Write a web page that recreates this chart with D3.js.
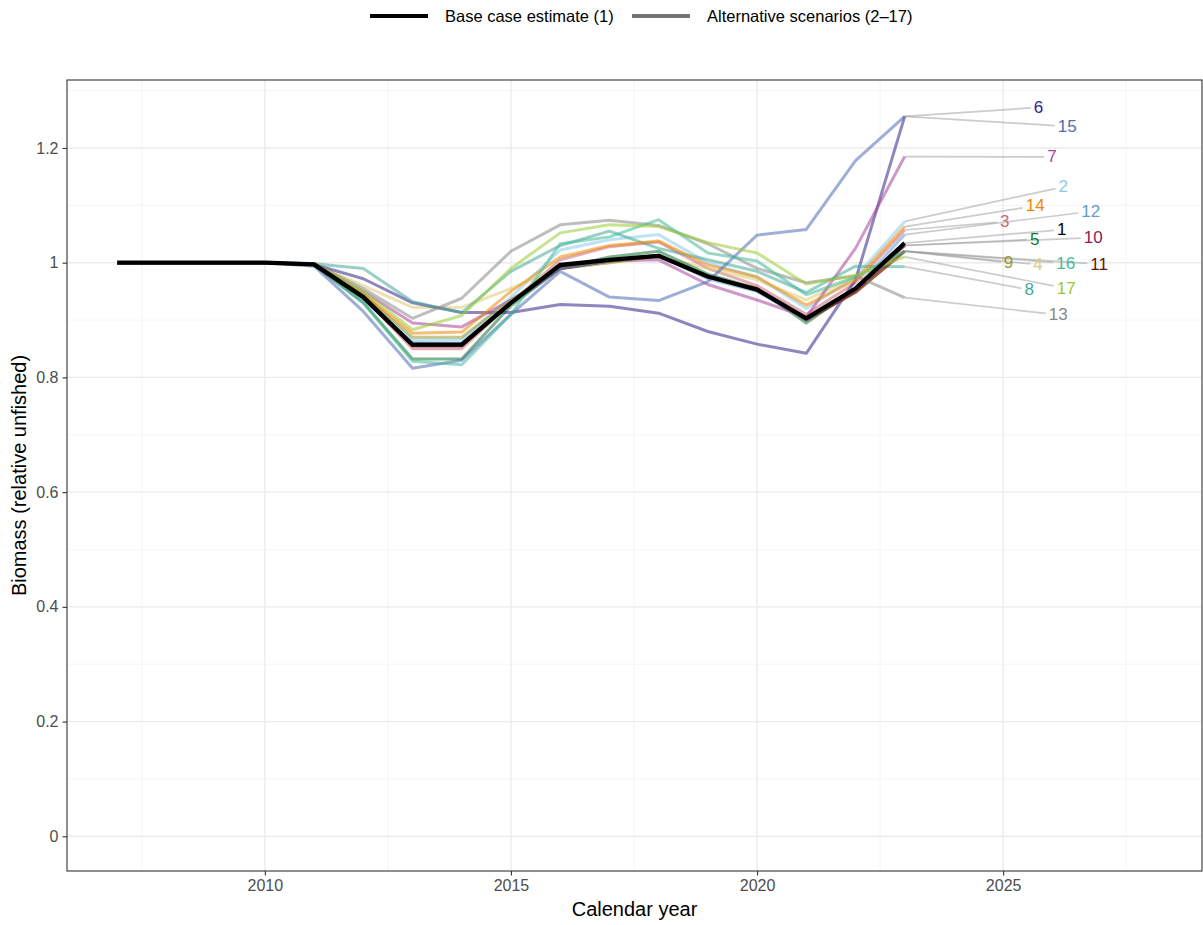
<!DOCTYPE html>
<html>
<head>
<meta charset="utf-8">
<script src="https://cdnjs.cloudflare.com/ajax/libs/d3/7.8.5/d3.min.js"></script>
<style>
body { margin: 0; background: #fff; }
text { font-family: "Liberation Sans", Arial, sans-serif; }
</style>
</head>
<body>
<div id="canvas"></div>
<script>
// ----------------------------------------------------------
// DATA -----------------------------------------------------
// ----------------------------------------------------------
var years = [2007, 2008, 2009, 2010, 2011, 2012, 2013, 2014, 2015,
  2016, 2017, 2018, 2019, 2020, 2021, 2022, 2023];

var scenarioIds = ["1", "2", "3", "4", "5", "6", "7", "8", "9",
  "10", "11", "12", "13", "14", "15", "16", "17"];

var scenarioColors = ["#000000", "#88CCEE", "#CC6677", "#DDCC77", "#117733",
  "#332288", "#AA4499", "#44AA99", "#999933", "#882255", "#661100",
  "#6699CC", "#888888", "#EE8800", "#4F6BB5", "#44BB99", "#99CC33"];

// biomass relative to unfished, one row per scenario (2007 -> 2023)
var s1  = [1, 1, 1, 1, 0.997, 0.940, 0.857, 0.857, 0.930, 0.996, 1.005, 1.012, 0.976, 0.953, 0.903, 0.955, 1.034];
var s2  = [1, 1, 1, 1, 0.997, 0.945, 0.865, 0.866, 0.940, 1.022, 1.040, 1.049, 1.000, 0.975, 0.920, 0.975, 1.072];
var s3  = [1, 1, 1, 1, 0.997, 0.940, 0.850, 0.850, 0.930, 1.005, 1.028, 1.036, 0.990, 0.960, 0.910, 0.965, 1.057];
var s4  = [1, 1, 1, 1, 0.998, 0.960, 0.922, 0.922, 0.955, 0.990, 1.000, 1.010, 0.990, 0.970, 0.935, 0.975, 1.020];
var s5  = [1, 1, 1, 1, 0.996, 0.930, 0.832, 0.832, 0.925, 0.990, 1.010, 1.020, 0.980, 0.955, 0.895, 0.955, 1.030];
var s6  = [1, 1, 1, 1, 0.997, 0.972, 0.930, 0.913, 0.913, 0.927, 0.924, 0.912, 0.880, 0.858, 0.842, 0.970, 1.255];
var s7  = [1, 1, 1, 1, 0.997, 0.950, 0.895, 0.888, 0.935, 0.990, 1.003, 1.005, 0.962, 0.935, 0.905, 1.025, 1.185];
var s8  = [1, 1, 1, 1, 0.998, 0.990, 0.932, 0.913, 0.985, 1.030, 1.055, 1.025, 1.005, 0.985, 0.948, 0.994, 0.993];
var s9  = [1, 1, 1, 1, 0.997, 0.945, 0.870, 0.870, 0.935, 0.990, 1.000, 1.012, 0.975, 0.955, 0.900, 0.950, 1.020];
var s10 = [1, 1, 1, 1, 0.997, 0.940, 0.855, 0.855, 0.930, 0.990, 1.003, 1.013, 0.975, 0.955, 0.900, 0.950, 1.030];
var s11 = [1, 1, 1, 1, 0.997, 0.940, 0.855, 0.855, 0.930, 0.990, 1.003, 1.012, 0.975, 0.953, 0.900, 0.948, 1.020];
var s12 = [1, 1, 1, 1, 0.997, 0.935, 0.860, 0.860, 0.930, 0.990, 1.003, 1.012, 0.972, 0.950, 0.900, 0.955, 1.049];
var s13 = [1, 1, 1, 1, 0.998, 0.955, 0.903, 0.938, 1.020, 1.066, 1.074, 1.065, 1.033, 0.990, 0.965, 0.977, 0.939];
var s14 = [1, 1, 1, 1, 0.997, 0.945, 0.877, 0.879, 0.950, 1.010, 1.030, 1.038, 0.996, 0.975, 0.926, 0.970, 1.063];
var s15 = [1, 1, 1, 1, 0.994, 0.915, 0.816, 0.830, 0.910, 0.985, 0.940, 0.934, 0.967, 1.048, 1.058, 1.178, 1.255];
var s16 = [1, 1, 1, 1, 0.997, 0.930, 0.828, 0.822, 0.910, 1.033, 1.045, 1.075, 1.017, 1.003, 0.944, 0.975, 1.020];
var s17 = [1, 1, 1, 1, 0.998, 0.950, 0.883, 0.908, 0.990, 1.052, 1.066, 1.063, 1.035, 1.017, 0.963, 0.978, 1.010];

var seriesValues = [s1, s2, s3, s4, s5, s6, s7, s8, s9, s10, s11, s12, s13, s14, s15, s16, s17];

var yTicks = [0, 0.2, 0.4, 0.6, 0.8, 1, 1.2];
var yMinor = [0.1, 0.3, 0.5, 0.7, 0.9, 1.1, 1.3];
var xTicks = [2010, 2015, 2020, 2025];
var xMinor = [2007.5, 2012.5, 2017.5, 2022.5, 2027.5];

var legendLabels = ["Base case estimate (1)", "Alternative scenarios (2\u201317)"];

// repelled label spots, in data units (year, biomass)
var labelYear  = [2026.19, 2026.22, 2025.03, 2025.71, 2025.64, 2025.72, 2025.99, 2025.53, 2025.11,
  2026.83, 2026.95, 2026.78, 2026.12, 2025.65, 2026.30, 2026.27, 2026.28];
var labelValue = [1.0575, 1.1322, 1.0713, 0.9965, 1.0410, 1.2707, 1.1845, 0.9529, 1.0000,
  1.0436, 0.9974, 1.0893, 0.9093, 1.0990, 1.2377, 0.9991, 0.9555];


// ----------------------------------------------------------
// STRUCTURE ------------------------------------------------
// ----------------------------------------------------------
var W = 1203, H = 925;
var panel = { left: 67, right: 1202, top: 80, bottom: 871 };

var svg = d3.select("#canvas").append("svg")
  .attr("width", W)
  .attr("height", H)
  .style("display", "block");

var xScale = d3.scaleLinear()
  .domain([2005.98, 2029.04])
  .range([panel.left, panel.right]);

var yScale = d3.scaleLinear()
  .domain([-0.0605, 1.3185])
  .range([panel.bottom, panel.top]);

var grid_group = svg.append("g").attr("class", "grid");
var line_group = svg.append("g").attr("class", "lines");
var label_group = svg.append("g").attr("class", "labels");
var axis_group = svg.append("g").attr("class", "axes");


// ----------------------------------------------------------
// GRID -----------------------------------------------------
// ----------------------------------------------------------
grid_group.selectAll(".ymin").data(yMinor).enter().append("line")
  .attr("x1", panel.left).attr("x2", panel.right)
  .attr("y1", (d) => yScale(d)).attr("y2", (d) => yScale(d))
  .attr("stroke", "#F0F0F0").attr("stroke-width", 0.7);
grid_group.selectAll(".xmin").data(xMinor).enter().append("line")
  .attr("y1", panel.top).attr("y2", panel.bottom)
  .attr("x1", (d) => xScale(d)).attr("x2", (d) => xScale(d))
  .attr("stroke", "#F0F0F0").attr("stroke-width", 0.7);
grid_group.selectAll(".ymaj").data(yTicks).enter().append("line")
  .attr("x1", panel.left).attr("x2", panel.right)
  .attr("y1", (d) => yScale(d)).attr("y2", (d) => yScale(d))
  .attr("stroke", "#EBEBEB").attr("stroke-width", 1.4);
grid_group.selectAll(".xmaj").data(xTicks).enter().append("line")
  .attr("y1", panel.top).attr("y2", panel.bottom)
  .attr("x1", (d) => xScale(d)).attr("x2", (d) => xScale(d))
  .attr("stroke", "#EBEBEB").attr("stroke-width", 1.4);


// ----------------------------------------------------------
// LINES ----------------------------------------------------
// ----------------------------------------------------------
var series = scenarioIds.map((id, i) => ({
  id: id,
  color: scenarioColors[i],
  values: seriesValues[i].map((v, j) => ({ year: years[j], value: v })),
  labelYear: labelYear[i],
  labelValue: labelValue[i]
}));

var lineGen = d3.line()
  .x((d) => xScale(d.year))
  .y((d) => yScale(d.value));

// alternatives first, base case on top
line_group.selectAll(".alt")
  .data(series.slice(1))
  .enter().append("path")
  .attr("d", (d) => lineGen(d.values))
  .attr("fill", "none")
  .attr("stroke", (d) => d.color)
  .attr("stroke-opacity", 0.55)
  .attr("stroke-width", 3)
  .attr("stroke-linejoin", "round");

line_group.append("path")
  .attr("d", lineGen(series[0].values))
  .attr("fill", "none")
  .attr("stroke", "#000")
  .attr("stroke-width", 4.3)
  .attr("stroke-linejoin", "round");


// ----------------------------------------------------------
// LABELS ---------------------------------------------------
// ----------------------------------------------------------
var seg_group = label_group.append("g");
var txt_group = label_group.append("g");

var labels = txt_group.selectAll("text")
  .data(series)
  .enter().append("text")
  .attr("x", (d) => xScale(d.labelYear))
  .attr("y", (d) => yScale(d.labelValue))
  .attr("text-anchor", "middle")
  .attr("dominant-baseline", "central")
  .attr("font-size", 17)
  .attr("fill", (d) => d.color)
  .text((d) => d.id);

// segment from the 2023 point to the edge of the label box
labels.each(function (d) {
  var bb = this.getBBox();
  var cx = bb.x + bb.width / 2, cy = bb.y + bb.height / 2;
  var hw = bb.width / 2 + 3, hh = bb.height / 2 + 1;
  var last = d.values[d.values.length - 1];
  var px = xScale(last.year), py = yScale(last.value);
  var dx = px - cx, dy = py - cy;
  var t = Math.min(dx !== 0 ? hw / Math.abs(dx) : Infinity, dy !== 0 ? hh / Math.abs(dy) : Infinity);
  if (t >= 1) return;
  seg_group.append("line")
    .attr("x1", px).attr("y1", py)
    .attr("x2", cx + dx * t).attr("y2", cy + dy * t)
    .attr("stroke", "#9a9a9a")
    .attr("stroke-opacity", 0.5)
    .attr("stroke-width", 1.7);
});


// ----------------------------------------------------------
// AXES -----------------------------------------------------
// ----------------------------------------------------------
axis_group.append("rect")
  .attr("x", panel.left).attr("y", panel.top)
  .attr("width", panel.right - panel.left)
  .attr("height", panel.bottom - panel.top)
  .attr("fill", "none")
  .attr("stroke", "#333")
  .attr("stroke-width", 1.1);

var yAxis = axis_group.append("g")
  .attr("transform", `translate(${panel.left},0)`)
  .call(d3.axisLeft(yScale).tickValues(yTicks).tickSize(4.5).tickPadding(4)
    .tickFormat((d) => String(+d.toFixed(1))));
var xAxis = axis_group.append("g")
  .attr("transform", `translate(0,${panel.bottom})`)
  .call(d3.axisBottom(xScale).tickValues(xTicks).tickSize(4.5).tickPadding(4)
    .tickFormat(d3.format("d")));

[yAxis, xAxis].forEach((a) => {
  a.select(".domain").remove();
  a.selectAll(".tick line").attr("stroke", "#333").attr("stroke-width", 1.1);
  a.selectAll(".tick text")
    .attr("fill", "#4D4D4D")
    .attr("font-size", 16)
    .style("font-family", '"Liberation Sans", Arial, sans-serif');
});

axis_group.append("text")
  .attr("x", (panel.left + panel.right) / 2)
  .attr("y", 916)
  .attr("text-anchor", "middle")
  .attr("font-size", 20)
  .attr("fill", "#000")
  .text("Calendar year");

axis_group.append("text")
  .attr("transform", `translate(26,${(panel.top + panel.bottom) / 2}) rotate(-90)`)
  .attr("text-anchor", "middle")
  .attr("font-size", 20)
  .attr("fill", "#000")
  .text("Biomass (relative unfished)");


// ----------------------------------------------------------
// LEGEND ---------------------------------------------------
// ----------------------------------------------------------
var legend = svg.append("g").attr("class", "legend");
var legendKeys = [
  { x: 370, color: "#000", opacity: 1 },
  { x: 632, color: "#000", opacity: 0.55 }
];
legendKeys.forEach((k, i) => {
  legend.append("line")
    .attr("x1", k.x).attr("x2", k.x + 58)
    .attr("y1", 16).attr("y2", 16)
    .attr("stroke", k.color)
    .attr("stroke-opacity", k.opacity)
    .attr("stroke-width", 4);
  legend.append("text")
    .attr("x", k.x + 75)
    .attr("y", 16)
    .attr("dominant-baseline", "central")
    .attr("font-size", 16.5)
    .attr("fill", "#000")
    .text(legendLabels[i]);
});
</script>
</body>
</html>
